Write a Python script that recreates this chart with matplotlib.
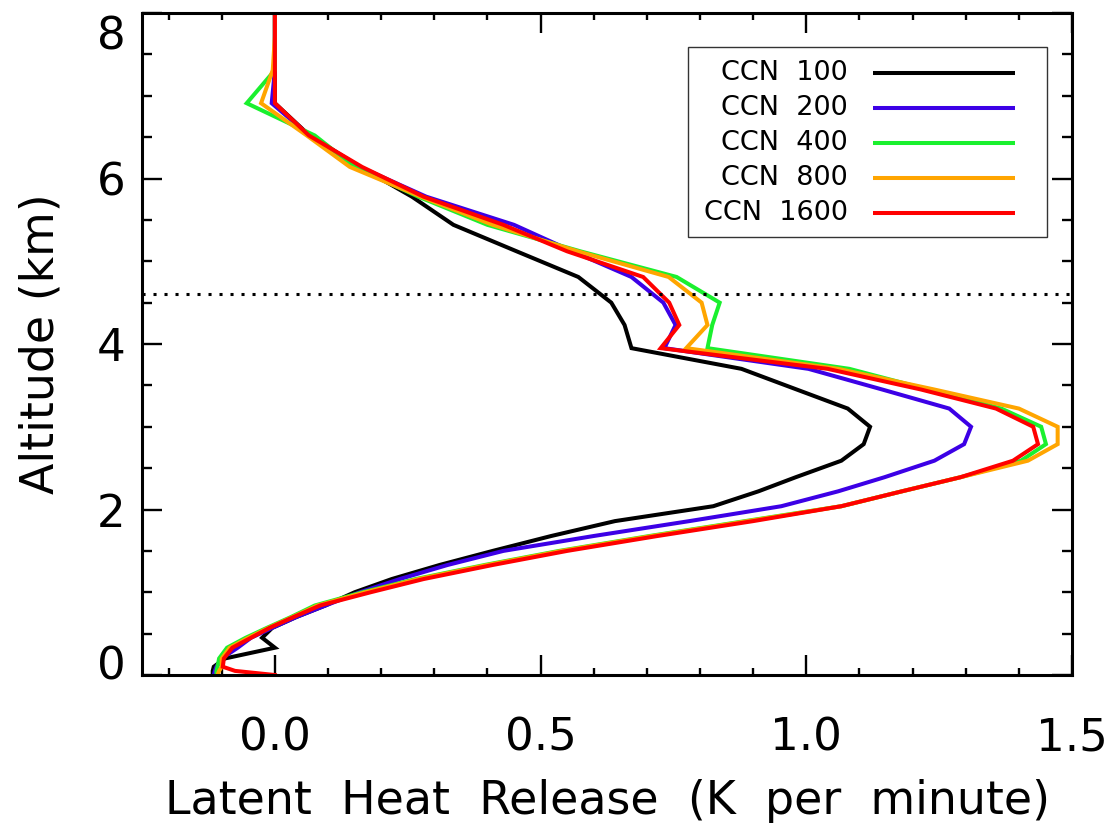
import matplotlib
matplotlib.use("Agg")
import matplotlib.pyplot as plt
import matplotlib.transforms as mtransforms
from matplotlib.patches import Rectangle
from matplotlib.ticker import MultipleLocator

plt.rcParams['font.family'] = ['DejaVu Sans']

# model levels (km)
altitude = [0.0, 0.05, 0.1, 0.2, 0.33, 0.45, 0.57, 0.70, 0.84, 1.0, 1.16, 1.33,
            1.5, 1.68, 1.86, 2.04, 2.22, 2.39, 2.59, 2.79, 3.0, 3.22, 3.45, 3.70,
            3.95, 4.23, 4.50, 4.81, 5.12, 5.44, 5.78, 6.14, 6.52, 6.91, 7.31,
            7.72, 8.15]

# latent heating profiles (K per minute)
lh_ccn100 = [-0.117, -0.117, -0.115, -0.094, 0.0, -0.024, -0.005, 0.04, 0.095,
             0.15, 0.22, 0.31, 0.41, 0.52, 0.64, 0.825,
             0.91, 0.98, 1.066, 1.108, 1.12, 1.078, 0.982, 0.878, 0.671,
             0.658, 0.633, 0.571, 0.455, 0.336, 0.258, 0.16, 0.065, 0.0, 0.0,
             0.0, 0.0]
lh_ccn200 = [-0.115, -0.113, -0.11, -0.10, -0.07, -0.045, -0.005, 0.04, 0.095,
             0.16, 0.235, 0.325, 0.43, 0.60, 0.78, 0.953,
             1.06, 1.147, 1.241, 1.297, 1.31, 1.269, 1.143, 1.004, 0.733,
             0.754, 0.731, 0.671, 0.56, 0.45, 0.285, 0.16, 0.065, -0.006, 0.0,
             0.0, 0.0]
lh_ccn400 = [-0.11, -0.11, -0.108, -0.105, -0.09, -0.055, -0.015, 0.03, 0.075,
             0.165, 0.265, 0.395, 0.535, 0.705, 0.885, 1.066,
             1.18, 1.29, 1.404, 1.451, 1.442, 1.367, 1.229, 1.081, 0.814,
             0.823, 0.837, 0.756, 0.575, 0.40, 0.27, 0.15, 0.075, -0.053, 0.0,
             0.0, 0.0]
lh_ccn800 = [-0.108, -0.105, -0.10, -0.10, -0.085, -0.05, -0.012, 0.033, 0.08,
             0.17, 0.27, 0.40, 0.54, 0.71, 0.89, 1.066,
             1.18, 1.29, 1.417, 1.473, 1.473, 1.40, 1.241, 1.06, 0.774,
             0.814, 0.803, 0.741, 0.57, 0.41, 0.275, 0.141, 0.06, -0.026, -0.004,
             0.0, 0.0]
lh_ccn1600 = [0.0, -0.075, -0.098, -0.096, -0.08, -0.045, -0.01, 0.035, 0.085,
              0.18, 0.28, 0.41, 0.55, 0.72, 0.90, 1.066,
              1.18, 1.29, 1.389, 1.436, 1.427, 1.357, 1.216, 1.04, 0.726,
              0.761, 0.742, 0.693, 0.55, 0.43, 0.28, 0.164, 0.064, 0.0, 0.0,
              0.0, 0.0]

labels = ['CCN  100', 'CCN  200', 'CCN  400', 'CCN  800', 'CCN  1600']
profiles = [lh_ccn100, lh_ccn200, lh_ccn400, lh_ccn800, lh_ccn1600]
colors = ['#000000', '#3C00E6', '#1AF02E', '#FFA500', '#FF0000']

freezing_level = 4.6

fig = plt.figure(figsize=(11.14, 8.23), dpi=100)
ax = fig.add_axes([0.1275, 0.1798, 0.8348, 0.8044])

for prof, col in zip(profiles, colors):
    ax.plot(prof, altitude, color=col, lw=2.9, solid_joinstyle='miter')

ax.axhline(freezing_level, color='black', lw=2.2, linestyle=(0, (1, 2.6)),
           dash_capstyle='butt')

ax.set_xlim(-0.25, 1.5)
ax.set_ylim(0, 8)
ax.xaxis.set_minor_locator(MultipleLocator(0.1))
ax.yaxis.set_minor_locator(MultipleLocator(0.5))
ax.set_xticks([0.0, 0.5, 1.0, 1.5])
ax.set_xticklabels(['0.0', '0.5', '1.0', '1.5'])
ax.set_yticks([0, 2, 4, 6, 8])
ax.set_yticklabels(['0', '2', '4', '6', '8'])

for s in ax.spines.values():
    s.set_linewidth(2.2)

ax.tick_params(which='both', direction='in', top=True, right=True, width=1.7,
               labelsize=32.5)
ax.tick_params(axis='x', which='major', length=14.5, pad=30)
ax.tick_params(axis='x', which='minor', length=5)
ax.tick_params(axis='y', which='major', length=14.5, pad=12)
ax.tick_params(axis='y', which='minor', length=7)

# keep the end labels inside the frame height
ylab = ax.get_yticklabels()
ylab[0].set_transform(ylab[0].get_transform() +
                      mtransforms.ScaledTranslation(0, 13 / 100, fig.dpi_scale_trans))
ylab[-1].set_transform(ylab[-1].get_transform() +
                       mtransforms.ScaledTranslation(0, -19 / 100, fig.dpi_scale_trans))

ax.set_xlabel('Latent  Heat  Release  (K  per  minute)', fontsize=33, labelpad=14)
ax.set_ylabel('Altitude (km)', fontsize=33, labelpad=24)

# legend box drawn in axes coordinates
ax.add_patch(Rectangle((0.587, 0.662), 0.386, 0.287, transform=ax.transAxes,
                       facecolor='white', edgecolor='#333333', lw=1.0, zorder=5))
rows = [0.909, 0.856, 0.804, 0.751, 0.698]
for lab, col, yr in zip(labels, colors, rows):
    ax.text(0.759, yr, lab, transform=ax.transAxes, ha='right', va='center',
            fontsize=19.5, zorder=6)
    ax.plot([0.786, 0.939], [yr, yr], transform=ax.transAxes, color=col,
            lw=2.9, zorder=6, solid_capstyle='butt')

fig.savefig('out.png', dpi=100)
